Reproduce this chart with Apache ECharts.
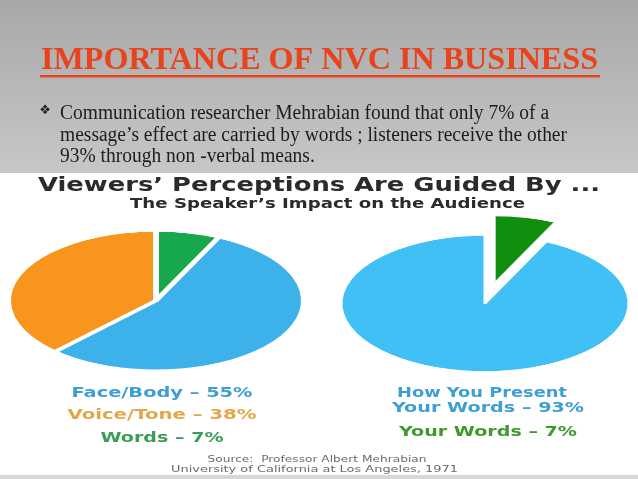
<!DOCTYPE html>
<html><head><meta charset="utf-8">
<script src="https://cdn.jsdelivr.net/npm/echarts@6/dist/echarts.min.js"></script>
<style>
html,body{margin:0;padding:0;background:#fff;}
#wrap{position:relative;width:638px;height:479px;overflow:hidden;background:#fff;}
#bg{position:absolute;left:0;top:0;width:638px;height:479px;}
#pies{position:absolute;left:0;top:82px;width:638px;height:440px;transform:scaleY(0.475);transform-origin:50% 220px;}
</style></head><body>
<div id="wrap"><div id="bg"></div><div id="pies"></div></div>
<script>
// ---- data ----
const TITLE = "IMPORTANCE OF NVC IN BUSINESS";
const BODY_LINES = [
  "Communication researcher Mehrabian found that only 7% of a",
  "message\u2019s effect are carried by words ; listeners receive the other",
  "93% through non -verbal means."
];
const HEADING = "Viewers\u2019 Perceptions Are Guided By ...";
const SUBHEADING = "The Speaker\u2019s Impact on the Audience";
const LEFT_CATEGORIES = ["Words", "Face/Body", "Voice/Tone"];
const LEFT_VALUES = [7, 55, 38];
const RIGHT_CATEGORIES = ["Your Words", "How You Present Your Words"];
const RIGHT_VALUES = [7, 93];
const SOURCE_LINES = ["Source:  Professor Albert Mehrabian", "University of California at Los Angeles, 1971"];

// ---- colours ----
const LEFT_COLORS = ["#18a84c", "#3db2ea", "#f7951c"];
const RIGHT_COLORS = ["#0e900e", "#40c0f5"];

const mctx = document.createElement('canvas').getContext('2d');
function measure(text, weight, size, family) {
  mctx.font = weight + ' ' + size + 'px ' + family;
  return mctx.measureText(text).width;
}
function textEl(text, x, y, size, weight, family, color, width, align) {
  const sx = width ? width / measure(text, weight, size, family) : 1;
  return {
    type: 'text', x: x, y: y, scaleX: sx, silent: true,
    style: { text: text, x: 0, y: 0, fontSize: size, fontWeight: weight, fontFamily: family,
             fill: color, textAlign: align || 'left', textVerticalAlign: 'middle' }
  };
}
const SERIF = "'Liberation Serif', serif";
const SANS = "'DejaVu Sans', sans-serif";

const pct = (c, v) => c + " \u2013 " + v + "%";

const g = [];
g.push({ type: 'rect', silent: true, shape: { x: 0, y: 0, width: 638, height: 173 },
  style: { fill: new echarts.graphic.LinearGradient(0, 0, 0, 1, [
    { offset: 0, color: '#a8a8a8' }, { offset: 1, color: '#c7c7c7' }]) } });
g.push({ type: 'rect', silent: true, shape: { x: 0, y: 475, width: 638, height: 4 }, style: { fill: '#d6d6d6' } });
// title
g.push(textEl(TITLE, 41, 61, 31, 'bold', SERIF, '#e8431c', 557));
g.push({ type: 'rect', silent: true, shape: { x: 40, y: 75, width: 560, height: 2.5 }, style: { fill: '#e8431c' } });
// bullet + body
g.push(textEl("\u2756", 45, 111, 13, 'normal', SANS, '#222', 0, 'center'));
const bodyTop = [114, 135.5, 157];
const bodyScale = 507 / measure(BODY_LINES[1], 'normal', 20, SERIF);
BODY_LINES.forEach((t, i) => {
  const el = textEl(t, 60, bodyTop[i], 20, 'normal', SERIF, '#1c1c1c', 0);
  el.scaleX = bodyScale;
  g.push(el);
});
// headings
g.push(textEl(HEADING, 38, 186, 19, 'bold', SANS, '#2b2b2b', 562));
g.push(textEl(SUBHEADING, 130, 204, 14, 'bold', SANS, '#2b2b2b', 395));
// left legend
const leftLegend = [
  { i: 1, y: 393, w: 181, c: '#3d9fd2' },
  { i: 2, y: 415, w: 189, c: '#e4a64a' },
  { i: 0, y: 438.5, w: 123, c: '#3a9e58' }
];
leftLegend.forEach(o => g.push(textEl(pct(LEFT_CATEGORIES[o.i], LEFT_VALUES[o.i]), 162, o.y, 14, 'bold', SANS, o.c, o.w, 'center')));
// right legend
const rParts = RIGHT_CATEGORIES[1].split(' ');
g.push(textEl(rParts.slice(0, 3).join(' '), 482, 393, 14, 'bold', SANS, '#3d9fd2', 170, 'center'));
g.push(textEl(pct(rParts.slice(3).join(' '), RIGHT_VALUES[1]), 488, 408.5, 14, 'bold', SANS, '#3d9fd2', 192, 'center'));
g.push(textEl(pct(RIGHT_CATEGORIES[0], RIGHT_VALUES[0]), 488, 432, 14, 'bold', SANS, '#3f9a2c', 178, 'center'));
// source
g.push(textEl(SOURCE_LINES[0], 317, 460, 9, 'normal', SANS, '#6a6a6a', 219, 'center'));
g.push(textEl(SOURCE_LINES[1], 314.5, 470, 9, 'normal', SANS, '#6a6a6a', 287, 'center'));

const bg = echarts.init(document.getElementById('bg'), null, { renderer: 'canvas' });
bg.setOption({ animation: false, graphic: { elements: g } });

const pies = echarts.init(document.getElementById('pies'), null, { renderer: 'canvas' });
pies.setOption({
  animation: false,
  series: [
    {
      type: 'pie', silent: true, center: [156, 217], radius: [0, 148], startAngle: 90, clockwise: true,
      label: { show: false }, labelLine: { show: false },
      itemStyle: { borderColor: '#ffffff', borderWidth: 6 },
      data: LEFT_CATEGORIES.map((c, i) => ({ name: c, value: LEFT_VALUES[i], itemStyle: { color: LEFT_COLORS[i] } }))
    },
    {
      type: 'pie', silent: true, center: [485, 223], radius: [0, 144], startAngle: 90, clockwise: true,
      selectedMode: 'single', selectedOffset: 42,
      label: { show: false }, labelLine: { show: false },
      itemStyle: { borderColor: '#ffffff', borderWidth: 3 },
      data: RIGHT_CATEGORIES.map((c, i) => ({ name: c, value: RIGHT_VALUES[i], selected: i === 0, itemStyle: { color: RIGHT_COLORS[i] } }))
    }
  ]
});
</script>
</body></html>
